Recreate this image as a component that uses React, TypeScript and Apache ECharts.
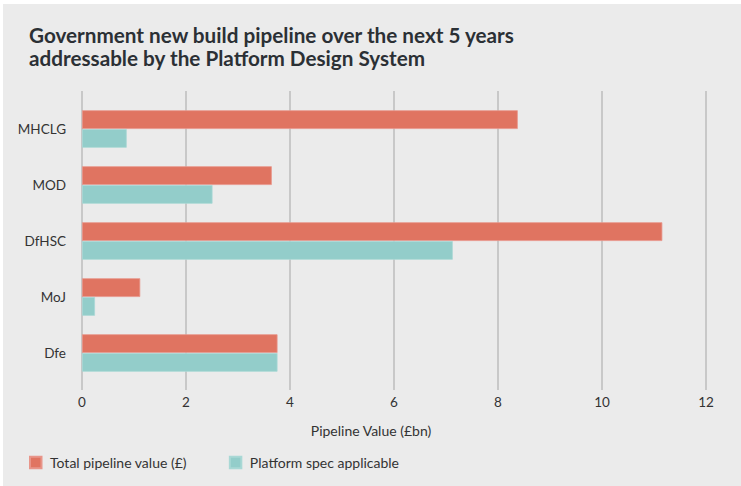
import React, { useEffect, useRef } from "react";
import * as echarts from "echarts";

const categories = ["MHCLG", "MOD", "DfHSC", "MoJ", "Dfe"];
const totalPipeline = [8.38, 3.65, 11.16, 1.12, 3.76];
const platformSpec = [0.86, 2.51, 7.13, 0.25, 3.76];
const xTicks = [0, 2, 4, 6, 8, 10, 12];
const seriesNames = ["Total pipeline value (£)", "Platform spec applicable"];
const titleLines = [
  "Government new build pipeline over the next 5 years",
  "addressable by the Platform Design System",
];
const axisName = "Pipeline Value (£bn)";

const FONT = "Lato";
const RED = "#e07461";
const TEAL = "#93cdca";
const TEXT = "#2b3035";

export default function App() {
  const ref = useRef<HTMLDivElement>(null);
  useEffect(() => {
    if (!ref.current) return;
    const chart = echarts.init(ref.current, undefined, { renderer: "svg" });
    const xMin = xTicks[0];
    const xMax = xTicks[xTicks.length - 1];
    const interval = xTicks[1] - xTicks[0];
    chart.setOption({
      animation: false,
      backgroundColor: "transparent",
      textStyle: { fontFamily: FONT },
      graphic: [
        {
          type: "rect",
          z: -10,
          silent: true,
          shape: { x: 3, y: 4, width: 738, height: 482 },
          style: { fill: "#ebebeb" },
        },
        {
          type: "text",
          left: 29,
          top: 23,
          style: {
            text: titleLines.join("\n"),
            font: `bold 20.7px ${FONT}`,
            fill: TEXT,
            lineHeight: 23,
          },
        },
        {
          type: "text",
          x: 371,
          y: 430,
          style: {
            text: axisName,
            font: `14px ${FONT}`,
            fill: "#333",
            align: "center",
            verticalAlign: "middle",
          },
        },
      ],
      legend: {
        left: 29,
        top: 455.5,
        padding: 0,
        itemWidth: 11.5,
        itemHeight: 11.5,
        itemGap: 42,
        icon: "rect",
        data: seriesNames,
        textStyle: {
          fontFamily: FONT,
          fontSize: 14,
          color: "#333",
          padding: [0, 0, 0, 3.5],
        },
      },
      grid: [
        { left: 82, right: 35, top: 101, bottom: 105 },
        { left: 82, right: 35, top: 91, bottom: 96 },
      ],
      xAxis: [
        {
          type: "value",
          gridIndex: 0,
          min: xMin,
          max: xMax,
          interval,
          show: false,
        },
        {
          type: "value",
          gridIndex: 1,
          min: xMin,
          max: xMax,
          interval,
          axisLine: { show: false },
          axisTick: { show: false },
          splitLine: { show: true, lineStyle: { color: "#bdbdbd", width: 1.5 } },
          axisLabel: {
            margin: 5,
            fontFamily: FONT,
            fontSize: 13.5,
            color: "#333",
          },
        },
      ],
      yAxis: [
        {
          type: "category",
          gridIndex: 0,
          data: categories,
          inverse: true,
          axisLine: { show: false },
          axisTick: { show: false },
          splitLine: { show: false },
          axisLabel: {
            margin: 16,
            fontFamily: FONT,
            fontSize: 13.5,
            color: "#333",
          },
        },
        {
          type: "value",
          gridIndex: 1,
          show: false,
        },
      ],
      series: [
        {
          name: seriesNames[0],
          type: "bar",
          xAxisIndex: 0,
          yAxisIndex: 0,
          data: totalPipeline,
          barGap: "0%",
          barCategoryGap: "33%",
          itemStyle: { color: RED, borderColor: "#e8958a", borderWidth: 0.8 },
        },
        {
          name: seriesNames[1],
          type: "bar",
          xAxisIndex: 0,
          yAxisIndex: 0,
          data: platformSpec,
          barGap: "0%",
          barCategoryGap: "33%",
          itemStyle: { color: TEAL, borderColor: "#a9d8d5", borderWidth: 0.8 },
        },
      ],
    });
    return () => chart.dispose();
  }, []);
  return (
    <div
      style={{
        position: "fixed",
        left: 0,
        top: 0,
        width: 741,
        height: 486,
        background: "#ffffff",
      }}
    >
      <div ref={ref} style={{ width: 741, height: 486 }} />
    </div>
  );
}
